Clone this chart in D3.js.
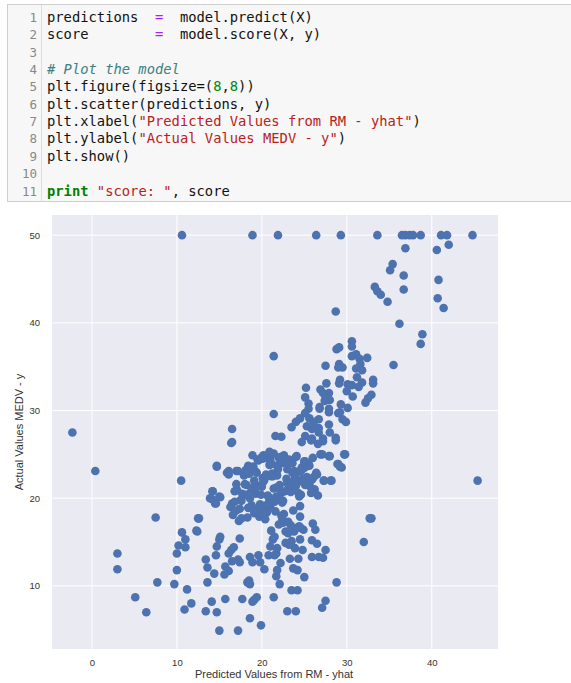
<!DOCTYPE html>
<html>
<head>
<meta charset="utf-8">
<script src="https://cdn.jsdelivr.net/npm/d3@7"></script>
<style>
  body { margin: 0; background: #fff; }
  svg { display: block; }
</style>
</head>
<body>
<svg id="page" width="571" height="683"></svg>
<script>
// code cell contents: each line is a list of [text, kind]
var codeLines = [
  [["predictions  ", "n"], ["=", "o"], ["  model.predict(X)", "n"]],
  [["score        ", "n"], ["=", "o"], ["  model.score(X, y)", "n"]],
  [],
  [["# Plot the model", "c"]],
  [["plt.figure(figsize=(", "n"], ["8", "d"], [",", "n"], ["8", "d"], ["))", "n"]],
  [["plt.scatter(predictions, y)", "n"]],
  [["plt.xlabel(", "n"], ["\"Predicted Values from RM - yhat\"", "s"], [")", "n"]],
  [["plt.ylabel(", "n"], ["\"Actual Values MEDV - y\"", "s"], [")", "n"]],
  [["plt.show()", "n"]],
  [],
  [["print", "k"], [" ", "n"], ["\"score: \"", "s"], [", score", "n"]]
];

var xTicks = [0, 10, 20, 30, 40];
var yTicks = [10, 20, 30, 40, 50];
var xLabel = "Predicted Values from RM - yhat";
var yLabel = "Actual Values MEDV - y";

// predictions (yhat)
var predicted = [
  10.6, 18.9, 21.9, 26.4, 29.3, 33.6, 36.5, 36.9, 37.4, 37.8, 38.7, 41.1, 41.8, 44.8,
  36.9, 40.6, 42.0, 35.4, 35.1, 36.7, 40.8, 33.3, 33.6, 34.0, 36.7, 34.8, 40.7, 41.4, 28.7, 36.2,
  38.9, 38.7, 35.5, 21.4, 30.6, 30.6, 28.8, 29.1, 31.1, 30.6, 32.4, 31.5, 31.6, 27.5, 29.1, 29.5,
  29.0, 31.1, 31.8, 31.2, 33.1, 33.1, 31.8, 29.2, 29.1, 27.6, 30.1, 30.6, 31.4, 25.2, 26.9, 30.0,
  27.2, 27.9, 30.7, 32.9, 32.5, 32.2, 25.1, 27.5, 28.0, 27.4, 25.5, 29.3, 26.8, 26.8, 30.1, 27.9,
  27.9, 25.5, 25.1, 29.0, 29.2, 21.4, 24.5, 25.6, 26.7, 29.5, 29.9, 24.0, 26.1, 27.9, 23.5, 25.3,
  25.9, 26.7, 26.7, 28.0, 16.5, 25.1, 21.6, 22.3, 28.7, 25.9, 27.2,
  16.5, 24.7, 25.8, 26.6, 27.2, 28.7, 29.8, 29.0, 29.4, 27.1, 28.0, 27.3, 28.2, 26.2, 14.7, 16.0,
  16.1, 17.2, 14.2, 15.1, 14.1, 14.6, 12.6, 12.4, 32.9, 16.8, 16.5,
  0.4, 45.4, 10.5, 3.0, 3.0, 5.1, 6.4, 7.5, 7.7, 9.7, 10.0, 10.0, 10.2, 10.6, 11.0, 11.0, 10.9,
  11.2, 11.7, 12.3, 12.5, 13.4, 13.6, 13.6, 13.4, 14.1, 14.4, 14.7, 15.0, 17.2, 14.6, 14.7, 15.0,
  15.1, 14.2, 13.9, 14.5, 15.0, 14.7, 15.9, 16.1, 17.0, 16.4, 15.7, 15.6, 15.7, 16.1, 16.1, 16.4,
  16.7, 16.5, 17.2, 17.4, 17.4, 17.7, 18.3, 18.5, 18.6, 18.6, 19.9, 18.9, 19.1, 19.4, 18.6, 18.9,
  19.6, 19.8, 20.3, 20.8, 21.0, 21.3, 21.5, 21.4, 21.7, 21.8, 22.1, 22.2, 21.7, 21.8, 21.5, 23.0,
  24.0, 23.5, 24.2, 23.7, 24.2, 23.3, 24.3, 23.9, 24.8, 25.0, 22.8, 23.2, 23.5, 24.5, 22.8, 23.8,
  24.6, 24.9, 25.9, 25.9, 26.5, 26.3, 26.0, 26.7, 27.2, 27.5, 27.5, 27.1, 28.8, 26.2, 27.3, 28.1,
  28.9, 29.2, 29.7, 32.0, 32.7, 27.9, 26.9, 26.5, 25.9,
  -2.3,
  // dense middle cluster
  17.0, 17.5, 17.8, 18.2, 18.5, 18.8, 19.0, 19.3, 19.6, 19.9, 20.2, 20.5, 20.8, 21.1, 21.4, 21.7,
  22.0, 22.3, 22.6, 22.9, 23.2, 23.5, 23.8, 24.1, 24.4, 24.7, 25.0, 25.3,
  17.3, 17.9, 18.4, 18.9, 19.2, 19.7, 20.1, 20.6, 21.0, 21.5, 21.9, 22.4, 22.8, 23.3, 23.7, 24.2,
  24.6, 25.1, 25.6, 26.0,
  16.6, 17.1, 17.6, 18.1, 18.6, 19.1, 19.5, 20.0, 20.4, 20.9, 21.3, 21.8, 22.2, 22.7, 23.1, 23.6,
  24.0, 24.5, 24.9, 25.4,
  16.8, 17.4, 18.0, 18.7, 19.4, 20.0, 20.7, 21.2, 21.9, 22.5, 23.0, 23.6, 24.3, 24.8, 25.5,
  18.3, 19.0, 19.8, 20.3, 20.9, 21.6, 22.1, 22.7, 23.4, 24.0, 24.7, 25.2, 26.1, 26.6,
  19.3, 19.9, 20.5, 21.0, 21.4, 22.0, 22.6, 23.2, 23.9, 24.4, 25.0, 25.7, 26.4,
  17.7, 18.4, 19.1, 19.7, 20.2, 20.8, 21.3, 21.8, 22.4, 23.0, 23.5, 24.1, 24.6,
  20.1, 20.6, 21.2, 21.7, 22.3, 22.9, 23.4, 24.0, 24.5, 25.1, 25.8,
  16.3, 17.0, 17.6, 18.2, 18.8, 19.5, 20.0, 20.7, 21.1, 21.6, 22.0, 22.5, 23.1
];
// actual values (y)
var actual = [
  50, 50, 50, 50, 50, 50, 50, 50, 50, 50, 50, 50, 50, 50,
  48.5, 48.3, 48.9, 46.7, 46.0, 45.4, 44.9, 44.1, 43.6, 43.2, 43.8, 42.4, 42.8, 41.7, 41.3, 39.9,
  38.7, 37.6, 35.2, 36.2, 37.9, 37.3, 37.0, 37.2, 36.4, 36.2, 36.0, 35.9, 35.3, 35.1, 35.3, 34.9,
  34.9, 34.8, 34.6, 33.8, 33.5, 33.1, 33.2, 33.5, 33.1, 33.1, 33.0, 32.9, 32.7, 32.6, 32.4, 32.2,
  32.0, 32.0, 31.6, 31.8, 31.4, 30.9, 31.5, 31.4, 31.2, 31.1, 30.8, 30.7, 30.4, 30.2, 30.3, 30.2,
  29.8, 30.2, 29.7, 29.7, 29.8, 29.6, 29.1, 29.1, 29.0, 29.0, 28.7, 28.7, 28.7, 28.4, 28.1, 28.2,
  27.9, 28.0, 27.5, 27.5, 27.9, 27.1, 27.1, 27.0, 26.9, 26.8, 26.8,
  26.4, 26.4, 26.6, 26.2, 26.5, 26.6, 25.0, 23.9, 23.5, 25.0, 24.8, 22.0, 22.0, 21.0, 23.7, 22.9,
  23.1, 23.1, 20.8, 20.1, 19.9, 19.4, 17.7, 16.2, 17.7, 20.8, 19.4,
  23.1, 22.0, 22.0, 13.7, 11.9, 8.7, 7.0, 17.8, 10.4, 10.2, 11.8, 13.7, 14.6, 16.1, 15.3, 14.4, 7.3,
  9.6, 8.0, 16.3, 17.7, 13.0, 12.1, 10.4, 7.1, 8.2, 11.4, 7.0, 4.9, 4.9, 13.5, 14.5, 15.3,
  15.6, 20.8, 20.0, 19.4, 20.2, 23.6, 22.9, 22.7, 23.1, 26.3, 8.5, 11.3, 12.2, 11.7, 13.7, 14.1,
  14.4, 12.8, 13.0, 12.7, 15.4, 8.5, 10.4, 10.6, 10.2, 6.3, 5.5, 8.2, 8.4, 8.7, 13.3, 12.7,
  13.5, 12.7, 11.9, 13.5, 14.5, 15.3, 15.6, 8.7, 11.1, 11.8, 10.2, 12.6, 13.7, 14.3, 13.5, 7.1,
  7.1, 9.5, 9.5, 12.0, 11.8, 13.1, 13.1, 14.3, 14.1, 11.0, 14.9, 14.7, 15.1, 15.3, 16.2, 16.2,
  16.6, 16.4, 13.3, 15.2, 14.8, 16.4, 17.1, 13.3, 13.2, 14.1, 8.3, 7.5, 10.4, 21.0, 22.0, 22.0,
  23.9, 23.6, 25.0, 15.0, 17.7, 24.8, 25.0, 22.7, 22.1,
  27.5,
  18.6, 19.8, 20.3, 21.5, 22.8, 19.2, 23.6, 20.5, 24.3, 19.0, 21.9, 24.6, 20.1, 22.5, 25.1, 21.2,
  23.8, 20.6, 24.9, 22.2, 24.4, 21.0, 23.1, 24.8, 20.2, 23.5, 24.1, 22.4,
  17.4, 22.6, 18.9, 24.9, 21.1, 17.9, 22.3, 18.4, 24.5, 19.6, 23.3, 19.5, 24.0, 21.7, 18.6, 23.0,
  20.4, 24.2, 23.7, 24.6,
  18.1, 20.9, 19.7, 23.2, 20.0, 22.0, 24.4, 21.3, 17.6, 23.8, 19.9, 22.6, 24.7, 20.8, 17.3, 22.9,
  21.4, 19.1, 23.4, 21.8,
  19.6, 18.8, 21.6, 20.7, 22.9, 18.4, 20.3, 22.8, 23.5, 17.2, 21.7, 24.0, 20.6, 22.2, 23.9,
  17.8, 21.2, 19.3, 22.1, 25.3, 19.8, 21.5, 24.1, 16.9, 24.7, 21.9, 23.6, 22.4, 20.3,
  23.0, 20.4, 22.7, 19.0, 21.1, 24.6, 18.2, 20.9, 22.3, 16.8, 24.2, 21.3, 22.9,
  20.5, 23.7, 18.3, 21.4, 24.9, 19.4, 22.5, 20.0, 17.5, 23.3, 21.8, 16.6, 23.1,
  24.5, 19.2, 23.9, 20.2, 18.0, 24.3, 20.7, 22.0, 17.9, 21.5, 20.6,
  19.0, 21.6, 17.7, 20.4, 23.4, 18.7, 24.7, 19.3, 16.3, 18.5, 17.0, 19.7, 16.0
];

var svg = d3.select("#page");

// ---- code cell ----
var cell = svg.append("g");
cell.append("rect")
  .attr("x", 7.5).attr("y", 4.5).attr("width", 570).attr("height", 197)
  .attr("fill", "#f7f7f7").attr("stroke", "#cfcfcf");
cell.append("line")
  .attr("x1", 41.5).attr("x2", 41.5).attr("y1", 5).attr("y2", 201)
  .attr("stroke", "#dddddd");

var kindColor = { n: "#111", o: "#aa22ff", c: "#408080", s: "#ba2121", d: "#008800", k: "#008000" };
var lineY = d3.scaleLinear().domain([0, 10]).range([22, 195.5]);

codeLines.forEach(function (segs, i) {
  cell.append("text")
    .attr("x", 37).attr("y", lineY(i))
    .attr("text-anchor", "end")
    .attr("font-family", "DejaVu Sans Mono, monospace")
    .attr("font-size", 12.5)
    .attr("fill", "#888")
    .text(i + 1);
  var t = cell.append("text")
    .attr("x", 47).attr("y", lineY(i))
    .attr("font-family", "DejaVu Sans Mono, monospace")
    .attr("font-size", 13.8)
    .style("white-space", "pre")
    .attr("xml:space", "preserve");
  segs.forEach(function (s) {
    t.append("tspan")
      .attr("fill", kindColor[s[1]])
      .attr("font-style", s[1] === "c" ? "italic" : "normal")
      .attr("font-weight", s[1] === "k" ? "bold" : "normal")
      .text(s[0]);
  });
});

// ---- scatter plot ----
var plotLeft = 52, plotRight = 498, plotTop = 215, plotBottom = 649;
var x = d3.scaleLinear().domain([-4.7, 47.8]).range([plotLeft, plotRight]);
var y = d3.scaleLinear().domain([2.8, 52.3]).range([plotBottom, plotTop]);

var plot = svg.append("g");
plot.append("rect")
  .attr("x", plotLeft).attr("y", plotTop)
  .attr("width", plotRight - plotLeft).attr("height", plotBottom - plotTop)
  .attr("fill", "#eaeaf2");

plot.selectAll(".gx").data(xTicks).enter().append("line")
  .attr("x1", d => x(d)).attr("x2", d => x(d))
  .attr("y1", plotTop).attr("y2", plotBottom)
  .attr("stroke", "#fff").attr("stroke-width", 1);
plot.selectAll(".gy").data(yTicks).enter().append("line")
  .attr("y1", d => y(d)).attr("y2", d => y(d))
  .attr("x1", plotLeft).attr("x2", plotRight)
  .attr("stroke", "#fff").attr("stroke-width", 1);

var xAxis = d3.axisBottom(x).tickValues(xTicks).tickSize(0).tickPadding(10);
var yAxis = d3.axisLeft(y).tickValues(yTicks).tickSize(0).tickPadding(12);
var gx = plot.append("g").attr("transform", "translate(0," + plotBottom + ")").call(xAxis);
var gy = plot.append("g").attr("transform", "translate(" + plotLeft + ",0)").call(yAxis);
[gx, gy].forEach(function (g) {
  g.select(".domain").remove();
  g.selectAll("text")
    .attr("font-family", "Liberation Sans, Arial, sans-serif")
    .attr("font-size", 9.5)
    .attr("fill", "#333");
});

plot.append("g").selectAll("circle")
  .data(predicted.map((p, i) => [p, actual[i]]))
  .enter().append("circle")
  .attr("cx", d => x(d[0]))
  .attr("cy", d => y(d[1]))
  .attr("r", 4.3)
  .attr("fill", "#4c72b0");

svg.append("text")
  .attr("x", (plotLeft + plotRight) / 2 - 1).attr("y", 678)
  .attr("text-anchor", "middle")
  .attr("font-family", "Liberation Sans, Arial, sans-serif")
  .attr("font-size", 11)
  .attr("fill", "#333")
  .text(xLabel);
svg.append("text")
  .attr("transform", "translate(23," + ((plotTop + plotBottom) / 2) + ") rotate(-90)")
  .attr("text-anchor", "middle")
  .attr("font-family", "Liberation Sans, Arial, sans-serif")
  .attr("font-size", 11)
  .attr("fill", "#333")
  .text(yLabel);
</script>
</body>
</html>
